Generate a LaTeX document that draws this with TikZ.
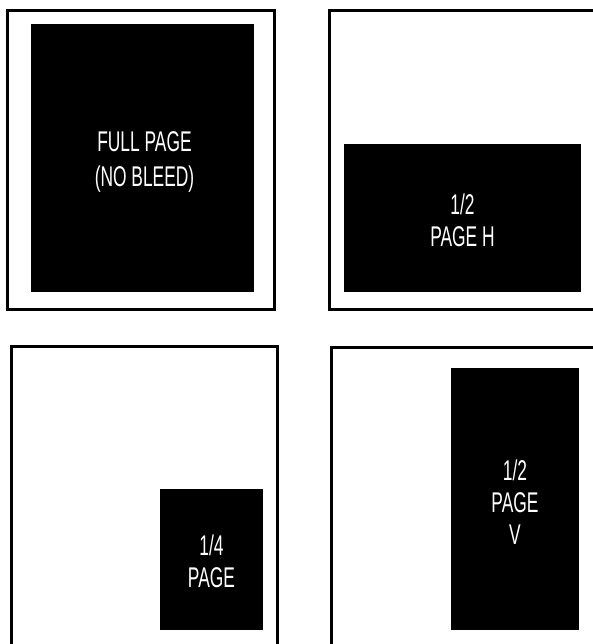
\documentclass[tikz,border=0pt]{standalone}
\usepackage{fontspec}
\setmainfont[FakeStretch=0.61]{Liberation Sans}
\usetikzlibrary{positioning}
\tikzset{
  pageframe/.style={draw=black, line width=3pt, fill=white},
  adbox/.style={fill=black, inner sep=0pt},
  adtext/.style={text=white, align=center, inner sep=0pt, font=\fontsize{28.5}{32}\selectfont},
}
\begin{document}
\begin{tikzpicture}[x=1pt,y=-1pt]
        \useasboundingbox (0,0) rectangle (593,644);
        \clip (0,0) rectangle (593,644);
        %full page
        \draw[pageframe] (7.5,10.5) rectangle (274.5,309);
        \node[adbox, minimum width=223pt, minimum height=268pt] (full) at (142.5,158) {};
        \node[adtext] (fulltext) at ([xshift=2pt,yshift=-4pt]full.center) {FULL PAGE\\[3pt](NO BLEED)};
        %half page horizontal
        \draw[pageframe] (329,10.5) rectangle (610,309);
        \node[adbox, minimum width=237pt, minimum height=148pt] (halfh) at (462.5,218) {};
        \node[adtext] (halfhtext) at ([yshift=-2pt]halfh.center) {1/2\\PAGE H};
        %quarter page
        \draw[pageframe] (11,346.7) rectangle (277.7,660);
        \node[adbox, minimum width=103pt, minimum height=141pt] (quarter) at (211.5,559.5) {};
        \node[adtext] (quartertext) at ([yshift=-2pt]quarter.center) {1/4\\PAGE};
        %half page vertical
        \draw[pageframe] (331,347.3) rectangle (610,660);
        \node[adbox, minimum width=128pt, minimum height=262pt] (halfv) at (515,499) {};
        \node[adtext] (halfvtext) at ([yshift=-3pt]halfv.center) {1/2\\PAGE\\V};
\end{tikzpicture}
\end{document}
